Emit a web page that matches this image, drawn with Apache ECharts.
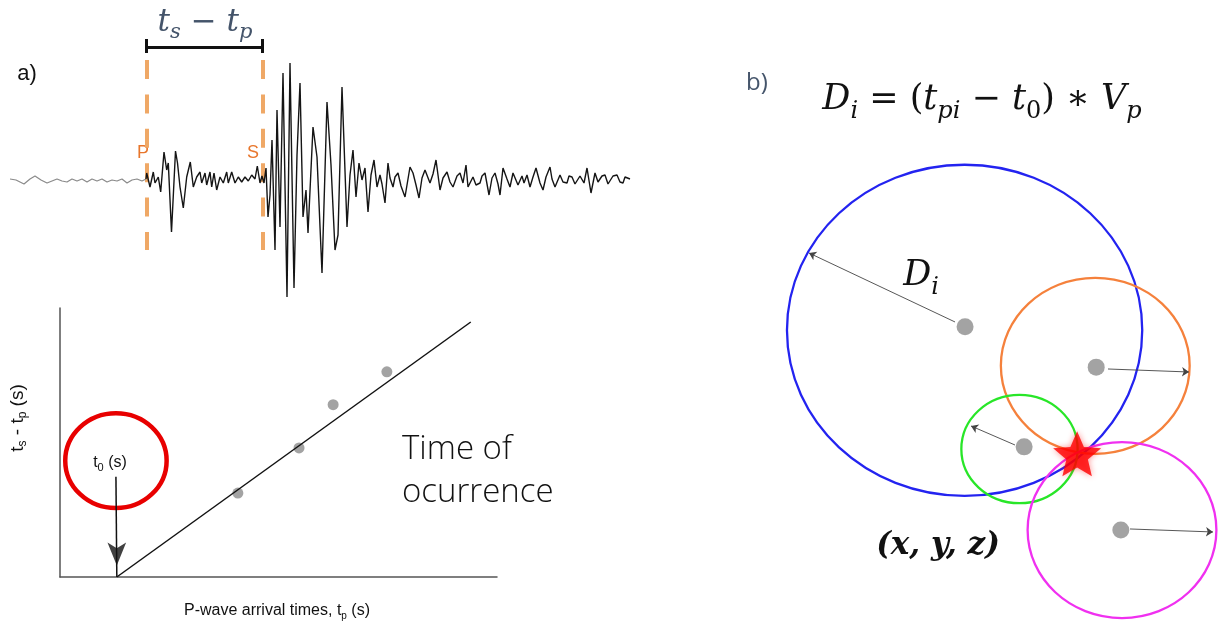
<!DOCTYPE html>
<html><head><meta charset="utf-8">
<script src="https://cdn.jsdelivr.net/npm/echarts@6/dist/echarts.min.js"></script>
<style>html,body{margin:0;padding:0;background:#fff}#c{width:1225px;height:628px}</style>
</head><body><div id="c"></div>
<script>
// ---------------- DATA ----------------
// a) seismogram: [time (s), amplitude]
const noiseTrace = [[0,0.1],[0.6,0],[1.4,-0.4],[2.0,0.1],[2.5,0.4],[3.1,0],[3.7,-0.3],[4.2,-0.1],[4.7,0.1],[5.2,-0.1],[5.7,-0.2],[6.2,0.1],[6.7,-0.1],[7.2,0.1],[7.7,-0.2],[8.2,0.1],[8.7,-0.1],[9.2,0.1],[9.7,-0.2],[10.2,0],[10.7,-0.1],[11.2,0.1],[11.7,-0.3],[12.2,0],[12.7,0.1],[13.2,-0.1],[13.6,0.1]];
const signalTrace = [[13.6,0.1],[13.67,0.7],[14.0,-0.7],[14.33,0.8],[14.5,-0.3],[14.83,0.3],[15.07,-1.2],[15.4,2.8],[15.67,1.0],[15.83,1.7],[16.15,-5.2],[16.55,2.9],[16.75,1.7],[17.0,-0.7],[17.33,-2.8],[17.67,0.3],[18.03,1.8],[18.33,-0.7],[18.67,0.3],[19.0,0.8],[19.17,-0.3],[19.5,0.7],[19.67,-0.5],[20.0,0.8],[20.17,-0.7],[20.4,0.7],[20.67,-1.0],[21.0,0.3],[21.33,-0.3],[21.67,0.8],[21.83,-0.3],[22.17,0.8],[22.5,-0.3],[22.83,0.3],[23.17,-0.2],[23.5,0.3],[23.83,-0.1],[24.17,0.5],[24.5,0.1],[24.73,1.4],[25.0,-0.3],[25.2,0.4],[25.4,-0.3],[25.6,1.2],[25.8,-3.7],[26.0,-1.5],[26.2,4.0],[26.5,-7.0],[26.7,7.0],[27.0,-4.7],[27.3,10.7],[27.7,-11.7],[28.0,11.7],[28.4,-10.8],[28.7,2.5],[29.0,9.7],[29.3,-3.7],[29.6,-1.0],[29.8,-5.3],[30.3,5.3],[30.7,2.3],[31.2,-9.3],[31.7,7.8],[32.1,1.5],[32.5,-7.0],[32.8,-5.5],[33.2,9.3],[33.7,-4.7],[34.0,0.5],[34.3,3.0],[34.6,-1.7],[34.9,1.7],[35.2,0],[35.5,1.2],[35.8,-3.2],[36.1,0.5],[36.4,2.0],[36.7,-0.7],[37.0,0.5],[37.2,-0.4],[37.5,-2.3],[37.8,1.7],[38.0,0.2],[38.3,-0.7],[38.5,0.3],[38.8,0.7],[39.1,-0.6],[39.5,-1.7],[40.0,1.3],[40.3,0.7],[40.6,-0.5],[40.9,-1.8],[41.2,0.2],[41.5,1.0],[42.0,-0.3],[42.3,0.6],[42.6,2.0],[43.0,-1.0],[43.3,0.2],[43.7,0.8],[44.0,-0.2],[44.3,-0.7],[44.7,0.4],[45.0,0.7],[45.3,-0.3],[45.6,1.5],[45.8,-0.7],[46.3,0.3],[46.6,-0.5],[47.0,-0.3],[47.2,0.4],[47.5,0.7],[47.9,-1.5],[48.2,0.2],[48.5,0.7],[48.8,-0.4],[49.0,-1.5],[49.3,1.2],[49.7,0.1],[50.0,-0.7],[50.3,0.7],[50.8,-0.5],[51.2,0.4],[51.4,-0.3],[51.7,0.5],[52.0,-0.7],[52.3,0.3],[52.6,1.2],[53.0,-0.3],[53.3,-1.0],[53.6,0.3],[54.0,1.3],[54.2,0.1],[54.5,-0.7],[55.0,0.5],[55.3,-0.2],[55.7,-0.3],[55.9,0.4],[56.2,0.3],[56.5,-0.4],[56.7,-0.3],[57.0,0.4],[57.2,0.2],[57.4,-0.3],[57.7,1.2],[58.1,-1.3],[58.5,0.7],[58.8,-0.2],[59.0,-0.3],[59.2,0.4],[59.5,0.5],[59.8,-0.4],[60.0,-0.2],[60.3,0.4],[60.7,0.5],[61.0,-0.2],[61.3,-0.3],[61.5,0.3],[61.7,0.5],[62.0,0.1]];
const pArrival = 13.63;
const sArrival = 25.25;
const phaseMarkTop = 12.0, phaseMarkBottom = -7.0;
const bracketLevel = 13.25, bracketTickTop = 14.1, bracketTickBottom = 12.7;

// a) lower plot: P arrival time vs ts - tp
const arrivalPoints = [[4.07,1.92],[5.47,2.95],[6.25,3.94],[7.48,4.69]];
const fitLine = [[1.30,0],[9.40,5.83]];
const t0Highlight = [[1.28,2.66,1.16,1.085]];   // centre x, centre y, radius x, radius y
const t0Arrow = [[1.28,2.29],[1.30,0]];

// b) stations and distance circles (x, y, radius)
const stationCircles = [[44.0,68.7,38.2],[72.1,60.5,20.3],[55.8,41.3,12.5],[77.85,22.6,20.3]];
const stations = [[44.1,69.5],[72.3,60.2],[56.8,41.8],[77.6,22.6]];
const radiusArrows = [
  [[41.94,70.62],[10.54,86.54]],
  [[74.84,59.77],[92.26,59.08]],
  [[54.84,42.23],[45.38,46.62]],
  [[79.57,22.85],[97.42,22.16]]
];
const hypocenter = [[68.2,40.2]];

// ---------------- STYLE ----------------
const circleColors = ['#2323f0', '#f5813c', '#28e628', '#f030f0'];
const orange = '#efa866';
const slate = '#44546a';
const narrow = '"Liberation Sans Narrow","Liberation Sans",Arial,sans-serif';
const serif = '"DejaVu Serif","Liberation Serif",serif';

const chart = echarts.init(document.getElementById('c'), null, {renderer: 'canvas'});

const hiddenAxis = (gi, min, max) => ({gridIndex: gi, type: 'value', min, max, show: false});

const option = {
  backgroundColor: '#fff',
  animation: false,
  grid: [
    {left: 10, top: 30, width: 620, height: 270},
    {left: 60, top: 308, width: 437, height: 269},
    {left: 760, top: 160, width: 465, height: 468}
  ],
  xAxis: [
    hiddenAxis(0, 0, 62),
    {gridIndex: 1, type: 'value', min: 0, max: 10,
      axisLine: {show: true, onZero: false, lineStyle: {color: '#555', width: 1.5}},
      axisTick: {show: false}, axisLabel: {show: false}, splitLine: {show: false}},
    hiddenAxis(2, 0, 100)
  ],
  yAxis: [
    hiddenAxis(0, -12, 15),
    {gridIndex: 1, type: 'value', min: 0, max: 6.15,
      axisLine: {show: true, onZero: false, lineStyle: {color: '#555', width: 1.5}},
      axisTick: {show: false}, axisLabel: {show: false}, splitLine: {show: false}},
    hiddenAxis(2, 0, 108)
  ],
  series: [
    // phase pick dashed lines
    {type: 'lines', coordinateSystem: 'cartesian2d', xAxisIndex: 0, yAxisIndex: 0, z: 1,
      lineStyle: {color: orange, width: 4, type: [19, 15.4], opacity: 1},
      data: [pArrival, sArrival].map(t => ({coords: [[t, phaseMarkTop], [t, phaseMarkBottom]]}))},
    // bracket
    {type: 'lines', coordinateSystem: 'cartesian2d', xAxisIndex: 0, yAxisIndex: 0, z: 3,
      lineStyle: {color: '#111', width: 3, opacity: 1},
      data: [
        {coords: [[pArrival, bracketLevel], [sArrival, bracketLevel]]},
        {coords: [[pArrival, bracketTickTop], [pArrival, bracketTickBottom]]},
        {coords: [[sArrival, bracketTickTop], [sArrival, bracketTickBottom]]}
      ]},
    {type: 'line', xAxisIndex: 0, yAxisIndex: 0, data: noiseTrace, showSymbol: false, z: 2,
      lineStyle: {color: '#8a8a8a', width: 1.2}},
    {type: 'line', xAxisIndex: 0, yAxisIndex: 0, data: signalTrace, showSymbol: false, z: 2,
      lineStyle: {color: '#151515', width: 1.4}},

    // lower-left plot
    {type: 'line', xAxisIndex: 1, yAxisIndex: 1, data: fitLine, showSymbol: false, z: 3,
      lineStyle: {color: '#111', width: 1.5}},
    {type: 'scatter', xAxisIndex: 1, yAxisIndex: 1, data: arrivalPoints, symbolSize: 11, z: 2,
      itemStyle: {color: '#8c8c8c'}},
    {type: 'custom', xAxisIndex: 1, yAxisIndex: 1, data: t0Highlight, z: 4,
      encode: {x: 0, y: 1},
      renderItem: (params, api) => {
        const c = api.coord([api.value(0), api.value(1)]);
        const s = api.size([api.value(2), api.value(3)]);
        return {type: 'ellipse', shape: {cx: c[0], cy: c[1], rx: s[0], ry: s[1]},
          style: {fill: 'none', stroke: '#e80000', lineWidth: 4.5}};
      }},
    {type: 'lines', coordinateSystem: 'cartesian2d', xAxisIndex: 1, yAxisIndex: 1, z: 5,
      lineStyle: {color: '#111', width: 1.5, opacity: 1},
      data: [{coords: t0Arrow}]},
    {type: 'scatter', xAxisIndex: 1, yAxisIndex: 1, z: 6, data: [t0Arrow[1]],
      symbol: 'arrow', symbolSize: [14, 23], symbolRotate: 180, symbolOffset: [0, -11.5],
      itemStyle: {color: '#111'}},

    // panel b
    {type: 'custom', xAxisIndex: 2, yAxisIndex: 2, data: stationCircles, z: 2,
      encode: {x: 0, y: 1},
      renderItem: (params, api) => {
        const c = api.coord([api.value(0), api.value(1)]);
        const s = api.size([api.value(2), api.value(2)]);
        return {type: 'ellipse', shape: {cx: c[0], cy: c[1], rx: s[0], ry: s[1]},
          style: {fill: 'none', stroke: circleColors[params.dataIndex], lineWidth: 2.3}};
      }},
    {type: 'lines', coordinateSystem: 'cartesian2d', xAxisIndex: 2, yAxisIndex: 2, z: 3,
      symbol: ['none', 'arrow'], symbolSize: 7,
      lineStyle: {color: '#444', width: 0.9, opacity: 1},
      data: radiusArrows.map(a => ({coords: a}))},
    {type: 'scatter', xAxisIndex: 2, yAxisIndex: 2, data: stations, symbolSize: 17, z: 4,
      itemStyle: {color: '#8c8c8c'}},
    {type: 'scatter', xAxisIndex: 2, yAxisIndex: 2, data: hypocenter, z: 5,
      symbol: 'path://M50,0 L63.5,31.5 L98,34.5 L71.5,57 L79.5,91 L50,73 L20.5,91 L28.5,57 L2,34.5 L36.5,31.5 Z',
      symbolSize: [48, 45],
      itemStyle: {color: '#ff0000', shadowBlur: 6, shadowColor: 'rgba(255,0,0,0.55)'}}
  ],
  graphic: [
    {type: 'text', x: 27, y: 74, style: {text: 'a)', font: '22px "Liberation Sans", Arial', fill: '#111', align: 'center', verticalAlign: 'middle'}},
    {type: 'text', x: 205, y: 23, style: {
      text: '{v|t}{s|s}{n| − }{v|t}{s|p}', align: 'center', verticalAlign: 'middle',
      rich: {
        v: {fontFamily: serif, fontStyle: 'italic', fontSize: 31, fill: slate, lineHeight: 40, verticalAlign: 'middle'},
        n: {fontFamily: serif, fontSize: 31, fill: slate, lineHeight: 40, verticalAlign: 'middle'},
        s: {fontFamily: serif, fontStyle: 'italic', fontSize: 21, fill: slate, lineHeight: 18, verticalAlign: 'bottom'}
      }}},
    {type: 'text', x: 143, y: 153, style: {text: 'P', font: '18px "Liberation Sans", Arial', fill: '#e8762c', align: 'center', verticalAlign: 'middle'}},
    {type: 'text', x: 253, y: 153, style: {text: 'S', font: '18px "Liberation Sans", Arial', fill: '#e8762c', align: 'center', verticalAlign: 'middle'}},
    {type: 'text', x: 110, y: 463, style: {
      text: '{a|t}{b|0}{a| (s)}', align: 'center', verticalAlign: 'middle',
      rich: {
        a: {fontFamily: narrow, fontSize: 16, fill: '#111', lineHeight: 20, verticalAlign: 'middle'},
        b: {fontFamily: narrow, fontSize: 11, fill: '#111', lineHeight: 10, verticalAlign: 'bottom'}
      }}},
    {type: 'text', x: 18, y: 418, rotation: Math.PI / 2, style: {
      text: '{a|t}{b|s}{a| - t}{b|p}{a| (s)}', align: 'center', verticalAlign: 'middle',
      rich: {
        a: {fontFamily: narrow, fontSize: 19, fill: '#111', lineHeight: 22, verticalAlign: 'middle'},
        b: {fontFamily: narrow, fontSize: 12, fill: '#111', lineHeight: 11, verticalAlign: 'bottom'}
      }}},
    {type: 'text', x: 277, y: 611, style: {
      text: '{a|P-wave arrival times, t}{b|p}{a| (s)}', align: 'center', verticalAlign: 'middle',
      rich: {
        a: {fontFamily: narrow, fontSize: 16, fill: '#111', lineHeight: 20, verticalAlign: 'middle'},
        b: {fontFamily: narrow, fontSize: 10, fill: '#111', lineHeight: 10, verticalAlign: 'bottom'}
      }}},
    {type: 'text', x: 402, y: 471, style: {
      text: 'Time of\nocurrence', font: '300 33px "Open Sans", Lato, sans-serif', lineHeight: 43,
      fill: '#111', align: 'left', verticalAlign: 'middle'}},
    {type: 'text', x: 757, y: 83, style: {text: 'b)', font: '24px "Open Sans", sans-serif', fill: slate, align: 'center', verticalAlign: 'middle'}},
    {type: 'text', x: 982, y: 100, style: {
      text: '{v|D}{s|i}{n| = (}{v|t}{s|pi}{n| − }{v|t}{z|0}{n|) ∗ }{v|V}{s|p}', align: 'center', verticalAlign: 'middle',
      rich: {
        v: {fontFamily: serif, fontStyle: 'italic', fontSize: 35, fill: '#111', lineHeight: 48, verticalAlign: 'middle'},
        n: {fontFamily: serif, fontSize: 35, fill: '#111', lineHeight: 48, verticalAlign: 'middle'},
        s: {fontFamily: serif, fontStyle: 'italic', fontSize: 24, fill: '#111', lineHeight: 22, verticalAlign: 'bottom'},
        z: {fontFamily: serif, fontSize: 24, fill: '#111', lineHeight: 22, verticalAlign: 'bottom'}
      }}},
    {type: 'text', x: 921, y: 276, style: {
      text: '{v|D}{s|i}', align: 'center', verticalAlign: 'middle',
      rich: {
        v: {fontFamily: serif, fontStyle: 'italic', fontSize: 35, fill: '#111', lineHeight: 48, verticalAlign: 'middle'},
        s: {fontFamily: serif, fontStyle: 'italic', fontSize: 24, fill: '#111', lineHeight: 22, verticalAlign: 'bottom'}
      }}},
    {type: 'text', x: 938, y: 546, style: {
      text: '(x, y, z)', font: 'italic bold 31px ' + serif, fill: '#111', align: 'center', verticalAlign: 'middle'}}
  ]
};
chart.setOption(option);
</script></body></html>
